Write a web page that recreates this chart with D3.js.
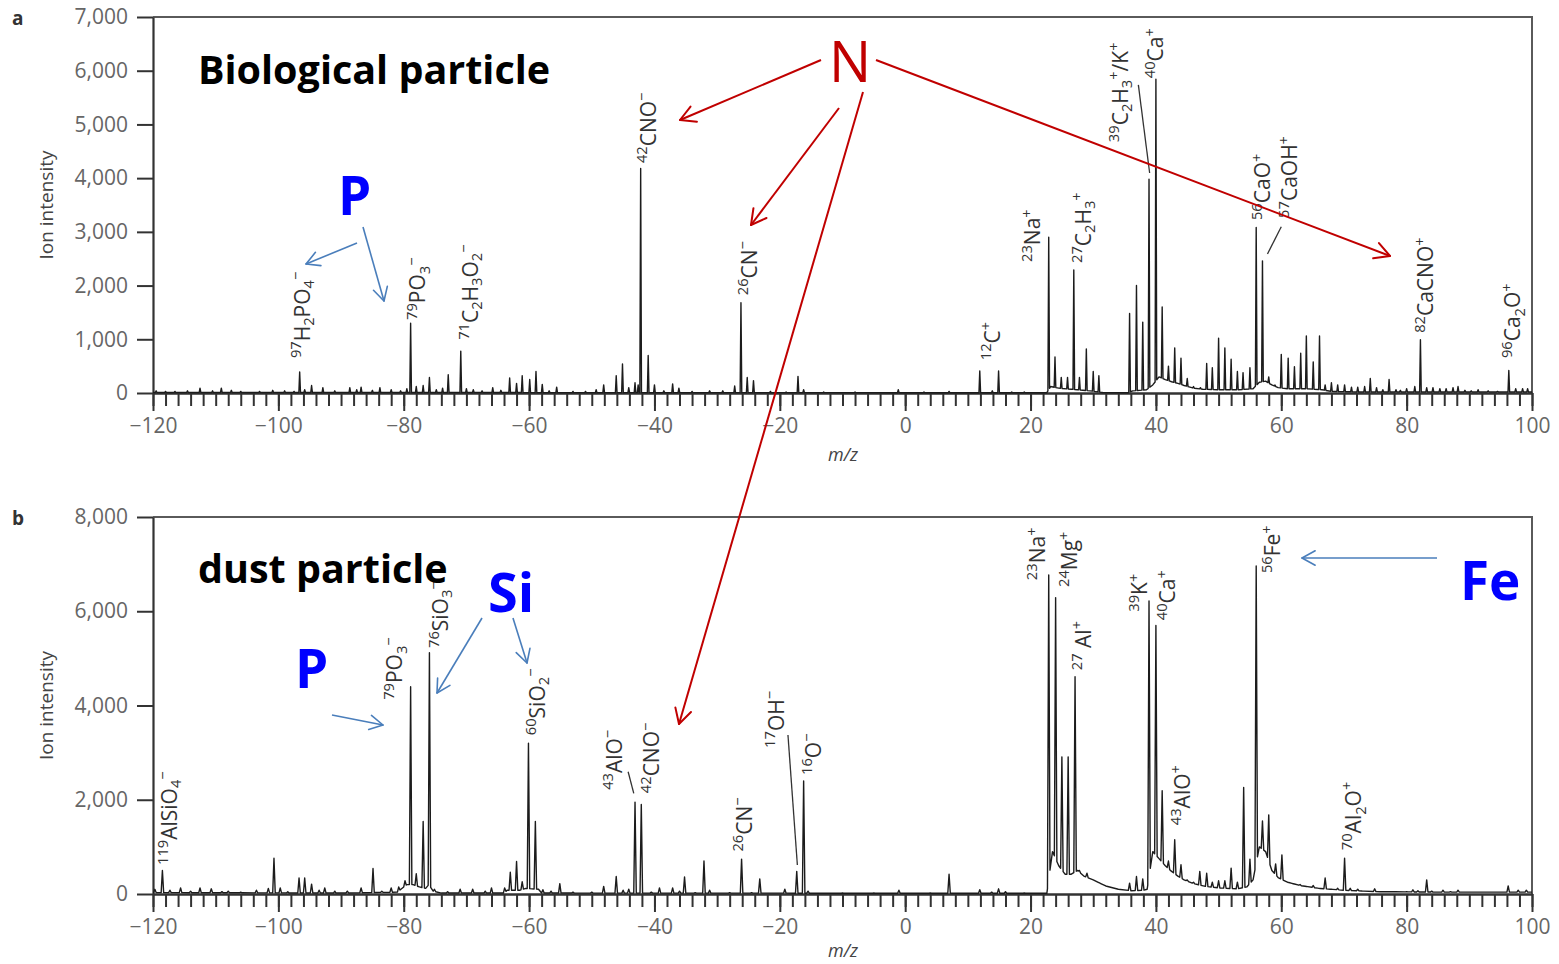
<!DOCTYPE html>
<html><head><meta charset="utf-8">
<script src="https://cdn.jsdelivr.net/npm/d3@7/dist/d3.min.js"></script>
<style>body{margin:0;background:#fff}svg{display:block}</style>
</head><body>
<script>
// ---------------- DATA ----------------
const xTicksMajor = [-120,-100,-80,-60,-40,-20,0,20,40,60,80,100];
const yTicksA = [0,1000,2000,3000,4000,5000,6000,7000];
const yTicksB = [0,2000,4000,6000,8000];

// panel a (biological particle): [m/z, ion intensity]
const peaksA = [
 [-119.5,40],[-118,30],[-116.5,30],[-114.5,40],[-112.5,90],[-110.5,40],[-109.1,90],[-107.5,50],[-106,30],[-103,30],
 [-100.9,50],[-99,40],[-97.5,30],[-96.6,390],[-95.8,60],[-94.7,140],[-92.9,100],[-91,40],[-88.6,100],[-87.5,60],
 [-86.8,110],[-85,50],[-83.8,100],[-82,60],[-80.5,40],[-79.5,80],[-78.9,1300],[-78,120],[-76.9,140],[-75.9,290],
 [-74.8,60],[-73.8,90],[-72.9,340],[-70.9,780],[-70,80],[-68.9,60],[-67.5,40],[-65.8,100],[-64.5,50],[-63.1,280],
 [-62,180],[-61.1,320],[-59.9,250],[-58.9,400],[-57.9,160],[-56.8,40],[-55.6,110],[-53,30],[-51,30],[-49.3,60],
 [-48.1,150],[-46.1,320],[-45.1,540],[-44.1,100],[-43.1,190],[-42.6,150],[-42.2,4180],[-41,700],[-40,150],[-38.5,40],
 [-37.1,170],[-36.1,90],[-34,30],[-31.2,40],[-29.1,40],[-27.2,130],[-26.2,1680],[-25.2,290],[-24.2,230],[-21.5,30],
 [-19,20],[-17.1,310],[-16.2,60],[-13,20],[-8,20],[-1.1,60],[3,20],[7,30],[11.9,410],[13.9,40],[14.9,410],[17,20],[19,20],
 [22.9,2900],[23.9,670],[24.9,290],[25.9,290],[26.9,2290],[27.8,290],[28.9,820],[30,400],[30.9,320],
 [35.8,1480],[36.9,2000],[37.9,1320],[38.9,3980],[40,5840],[41,1600],[42,500],[43,840],[44,650],[45,270],[46,120],
 [47.1,100],[48.1,550],[49,470],[50,1020],[51,840],[52,630],[53,400],[53.9,380],[55,470],[56,3080],[57,2460],[58,300],
 [59,150],[60,720],[61.1,650],[62.1,490],[63.1,740],[64,1060],[65.1,580],[66.1,1060],[67,150],[68,190],[69,150],
 [70.1,150],[71.2,110],[72.2,110],[73.3,120],[74.2,270],[75.2,100],[76.2,60],[77.2,250],[78.3,60],[79,50],[80,80],
 [81.3,120],[82.2,990],[83.2,100],[84.2,100],[85.3,80],[86.3,80],[87.4,100],[88.2,120],[89.3,50],[90.3,40],[91.4,60],
 [93,40],[94.5,30],[96.3,420],[97.4,80],[98.5,80],[99.3,80]
];
const floorA = [
 [-120,10],[22.6,5],[23.2,120],[24.5,90],[26.5,70],[27.5,60],[29.5,40],[31.5,10],[35.5,5],[36.3,40],[38.5,60],
 [39.5,150],[40.5,300],[41.5,250],[42.5,210],[43.5,180],[44.5,140],[46,90],[47.5,70],[50,60],[53,60],[55.5,80],
 [56.5,200],[57.5,220],[58.5,150],[59.5,100],[61,80],[64,80],[66.5,60],[68,30],[72,20],[100,20]
];

// panel b (dust particle)
const peaksB = [
 [-119.7,100],[-118.5,500],[-117.3,80],[-115.6,130],[-114,60],[-112.5,130],[-110.7,110],[-109,50],[-108,60],[-106,40],
 [-103.5,80],[-101.6,120],[-100.7,760],[-99.7,130],[-98.5,50],[-96.7,340],[-95.8,340],[-94.7,210],[-93.5,80],[-92.6,130],
 [-91,60],[-89,60],[-86.8,130],[-84.9,540],[-83.5,60],[-82,130],[-80.8,150],[-79.8,280],[-78.9,4400],[-78,430],
 [-76.9,1540],[-75.9,5120],[-75.1,100],[-73,50],[-71,100],[-69,100],[-67,60],[-66,130],[-63.9,130],[-63,460],
 [-62,690],[-61.1,260],[-60.1,3200],[-59,1540],[-57.8,90],[-56.5,60],[-55.1,220],[-53,40],[-50,40],[-48.1,160],
 [-46.1,370],[-45,80],[-44.1,100],[-43.1,1950],[-42.1,1900],[-40.5,40],[-39.2,130],[-37.1,130],[-36,60],[-35.2,360],
 [-33.5,30],[-32.1,700],[-31.2,80],[-28,30],[-26.1,740],[-24.5,30],[-23.2,320],[-19.2,100],[-17.3,480],[-16.2,2400],
 [-15.5,60],[-10,20],[-5,20],[-1,80],[4,20],[7,420],[11.9,90],[13.8,40],[14.9,110],[16,50],[19,20],
 [22.9,6770],[24,6290],[25,2910],[26,2910],[27.1,4610],[27.8,500],[29,440],[31,150],[35.8,230],[36.9,370],[37.9,320],
 [38.9,6220],[40,5700],[41,2190],[42,700],[43,1150],[44,620],[45,300],[46,250],[47,480],[48.1,440],[49,250],[50,280],
 [51,280],[52,550],[53,250],[54,2260],[55,740],[56,6960],[57,1550],[58,1680],[59.1,640],[60.1,830],[61,250],[61.9,200],
 [63,200],[64,150],[65.1,180],[66,120],[67,340],[68,100],[69,120],[70.1,760],[71,120],[72.2,100],[73,60],[74.9,110],
 [76,50],[78,40],[80,50],[81,90],[81.8,70],[83.2,300],[84,60],[85.8,80],[87,50],[88.2,80],[90,40],[92,40],[94,40],
 [96.2,170],[97.8,80],[99.1,80]
];
const floorB = [
 [-120,30],[-90,20],[-81,40],[-80,150],[-79.5,200],[-78.5,200],[-77.5,150],[-76.5,120],[-76,200],[-75.3,60],[-74,20],
 [-64,20],[-63.5,80],[-61.5,80],[-60.5,120],[-58.5,100],[-58,20],[22.6,15],[23.5,900],[24.5,600],[25.5,420],[26.5,420],
 [27.5,500],[28.5,380],[30,300],[32,170],[34,100],[36,70],[38,80],[38.6,100],[39.5,900],[40.5,750],[41.5,600],
 [42.5,480],[43.5,380],[44.5,300],[46,220],[48,160],[50,130],[53,110],[54.5,150],[55.5,300],[56.5,1000],[57.5,900],
 [58.5,500],[59.5,350],[61,250],[63,180],[66,120],[70,80],[75,50],[85,40],[100,40]
];

// peak labels: [markup, m/z of text baseline, intensity at text start]
const labelsA = [
 ["^{97}H_{2}PO_{4}^{−}",-95.0,650],["^{79}PO_{3}^{−}",-76.6,1360],["^{71}C_{2}H_{3}O_{2}^{−}",-68.2,990],
 ["^{42}CNO^{−}",-39.8,4280],["^{26}CN^{−}",-23.7,1820],["^{12}C^{+}",15.1,610],["^{23}Na^{+}",21.5,2440],
 ["^{27}C_{2}H_{3}^{+}",29.6,2420],["^{39}C_{2}H_{3}^{+}/K^{+}",35.5,4670],["^{40}Ca^{+}",41.2,5860],
 ["^{56}CaO^{+}",58.2,3220],["^{57}CaOH^{+}",62.5,3260],["^{82}CaCNO^{+}",84.2,1120],["^{96}Ca_{2}O^{+}",98.1,650]
];
const labelsB = [
 ["^{119}AlSiO_{4}^{−}",-116.2,615],["^{79}PO_{3}^{−}",-80.2,4120],["^{76}SiO_{3}^{−}",-73.0,5220],
 ["^{60}SiO_{2}^{−}",-57.5,3370],["^{43}AlO^{−}",-45.2,2210],["^{42}CNO^{−}",-39.2,2140],["^{26}CN^{−}",-24.5,900],
 ["^{17}OH^{−}",-19.4,3100],["^{16}O^{−}",-13.5,2525],["^{23}Na^{+}",22.3,6660],["^{24}Mg^{+}",27.4,6515],
 ["^{27} Al^{+}",29.6,4750],["^{39}K^{+}",38.6,5990],["^{40}Ca^{+}",43.1,5810],["^{43}AlO^{+}",45.4,1460],
 ["^{56}Fe^{+}",59.8,6810],["^{70}Al_{2}O^{+}",72.7,930]
];
// leader lines: [[mz1,int1],[mz2,int2]]
const leadersA = [[[37.2,5735],[39.0,4096]],[[60.0,3096],[57.8,2588]]];
const leadersB = [[[-44.2,2595],[-43.3,2137]],[[-18.7,3374],[-17.2,615]]];

// ---------------- DRAW ----------------
const W=1559,H=964;
const svg=d3.select("body").append("svg").attr("width",W).attr("height",H).attr("viewBox",`0 0 ${W} ${H}`);
svg.append("rect").attr("width",W).attr("height",H).attr("fill","#fff");
const FONT="'Open Sans', 'Noto Sans', sans-serif";

function rich(sel, str, fs){
  const parts=str.split(/(\^\{[^}]*\}|_\{[^}]*\})/).filter(s=>s.length);
  let shift=0;
  parts.forEach(p=>{
    let type='n',t=p;
    if(p.startsWith('^{')){type='sup';t=p.slice(2,-1);}
    else if(p.startsWith('_{')){type='sub';t=p.slice(2,-1);}
    const target= type==='sup' ? -0.40*fs : type==='sub' ? 0.22*fs : 0;
    sel.append("tspan").attr("dy",target-shift).attr("font-size",type==='n'?fs:fs*0.7).text(t);
    shift=target;
  });
}

function panel(cfg){
  const x=d3.scaleLinear([-120,100],[153,1532]);
  const y=d3.scaleLinear([0,cfg.ymax],[cfg.y0,cfg.y1]);
  const g=svg.append("g");
  g.append("path").attr("d",`M${x(-120)},${y(cfg.ymax)}H${x(100)}V${y(0)}`).attr("fill","none")
    .attr("stroke","#5a5a5a").attr("stroke-width",2);
  const ya=g.append("g").attr("transform",`translate(${x(-120)},0)`)
    .call(d3.axisLeft(y).tickValues(cfg.yticks).tickFormat(d3.format(",")).tickSize(16).tickSizeOuter(0).tickPadding(9));
  const xm=g.append("g").attr("transform",`translate(0,${y(0)})`)
    .call(d3.axisBottom(x).tickValues(d3.range(-120,101,2)).tickFormat("").tickSize(13).tickSizeOuter(0));
  const xa=g.append("g").attr("transform",`translate(0,${y(0)})`)
    .call(d3.axisBottom(x).tickValues(xTicksMajor).tickSize(18).tickSizeOuter(0).tickPadding(7));
  [ya,xm,xa].forEach(a=>{
    a.select(".domain").attr("stroke","#333").attr("stroke-width",2.2);
    a.selectAll(".tick line").attr("stroke","#333").attr("stroke-width",2);
    a.selectAll("text").attr("font-family",FONT).attr("font-size",21).attr("fill","#666");
  });
  const fl=cfg.floor;
  const fx=m=>{ let i=d3.bisector(d=>d[0]).right(fl,m); if(i<=0) return fl[0][1]; if(i>=fl.length) return fl[fl.length-1][1];
    const a=fl[i-1],b=fl[i]; return a[1]+(b[1]-a[1])*(m-a[0])/(b[0]-a[0]); };
  const dl=cfg.w;
  let pts=fl.filter(f=>!cfg.peaks.some(p=>Math.abs(p[0]-f[0])<=dl)).map(f=>[f[0],f[1]]);
  cfg.peaks.forEach(p=>{ pts.push([p[0]-dl,fx(p[0]-dl)]); pts.push([p[0],Math.max(p[1],fx(p[0]))]); pts.push([p[0]+dl,fx(p[0]+dl)]); });
  pts.sort((a,b)=>a[0]-b[0]);
  g.append("path").attr("d",d3.line().x(d=>x(d[0])).y(d=>y(d[1]))(pts))
    .attr("fill","none").attr("stroke","#1c1c1c").attr("stroke-width",1.4).attr("stroke-linejoin","round");
  cfg.leaders.forEach(l=>g.append("line").attr("x1",x(l[0][0])).attr("y1",y(l[0][1])).attr("x2",x(l[1][0])).attr("y2",y(l[1][1]))
    .attr("stroke","#333").attr("stroke-width",1.3));
  cfg.labels.forEach(l=>{
    const t=g.append("text").attr("transform",`translate(${x(l[1])},${y(l[2])}) rotate(-90)`)
      .attr("font-family",FONT).attr("fill","#333").attr("font-size",21);
    rich(t,l[0],21);
  });
  g.append("text").attr("transform",`translate(53,${(y(0)+y(cfg.ymax))/2}) rotate(-90)`).attr("text-anchor","middle")
    .attr("font-family",FONT).attr("font-size",19).attr("fill","#444").text("Ion intensity");
  g.append("text").attr("x",843).attr("y",cfg.mzY).attr("text-anchor","middle").attr("font-family",FONT)
    .attr("font-size",18).attr("font-style","italic").attr("fill","#444").text("m/z");
  g.append("text").attr("x",12).attr("y",cfg.y1+8).attr("font-family",FONT).attr("font-weight","bold")
    .attr("font-size",19).attr("fill","#333").text(cfg.letter);
}

panel({ymax:7000,y0:393,y1:17,yticks:yTicksA,peaks:peaksA,floor:floorA,w:0.13,labels:labelsA,leaders:leadersA,mzY:461,letter:"a"});
panel({ymax:8000,y0:894,y1:517,yticks:yTicksB,peaks:peaksB,floor:floorB,w:0.2,labels:labelsB,leaders:leadersB,mzY:957,letter:"b"});

// ---------------- ANNOTATIONS (overlay) ----------------
const bigText=[
 {t:"Biological particle",x:198,y:84,fs:39.5,c:"#000",w:"bold"},
 {t:"dust particle",x:198,y:583,fs:39.5,c:"#000",w:"bold"},
 {t:"N",x:829,y:82,fs:56,c:"#c00000",w:"normal"},
 {t:"P",x:338,y:215,fs:53,c:"#0000ff",w:"bold"},
 {t:"Si",x:488,y:612,fs:54,c:"#0000ff",w:"bold"},
 {t:"P",x:295,y:688,fs:53,c:"#0000ff",w:"bold"},
 {t:"Fe",x:1460,y:600,fs:53,c:"#0000ff",w:"bold"}
];
bigText.forEach(b=>svg.append("text").attr("x",b.x).attr("y",b.y).attr("font-family",FONT).attr("font-size",b.fs)
  .attr("font-weight",b.w).attr("fill",b.c).text(b.t));

function arrow(a,b,color,sw,len){
  svg.append("line").attr("x1",a[0]).attr("y1",a[1]).attr("x2",b[0]).attr("y2",b[1]).attr("stroke",color).attr("stroke-width",sw);
  const ang=Math.atan2(a[1]-b[1],a[0]-b[0]);
  [0.5,-0.5].forEach(s=>{
    svg.append("line").attr("x1",b[0]).attr("y1",b[1]).attr("x2",b[0]+len*Math.cos(ang+s)).attr("y2",b[1]+len*Math.sin(ang+s))
      .attr("stroke",color).attr("stroke-width",sw).attr("stroke-linecap","round");
  });
}
[[[821,60],[680,120]],[[839,108],[751,225]],[[863,92],[679,724]],[[876,60],[1390,256]]]
  .forEach(a=>arrow(a[0],a[1],"#c00000",2,17));
[[[357,243],[306,264]],[[363,227],[384,301]],[[332,715],[383,725]],[[482,618],[437,693]],[[513,618],[527,663]],[[1437,558],[1302,558]]]
  .forEach(a=>arrow(a[0],a[1],"#4a7ebb",1.6,15));
</script>
</body></html>
